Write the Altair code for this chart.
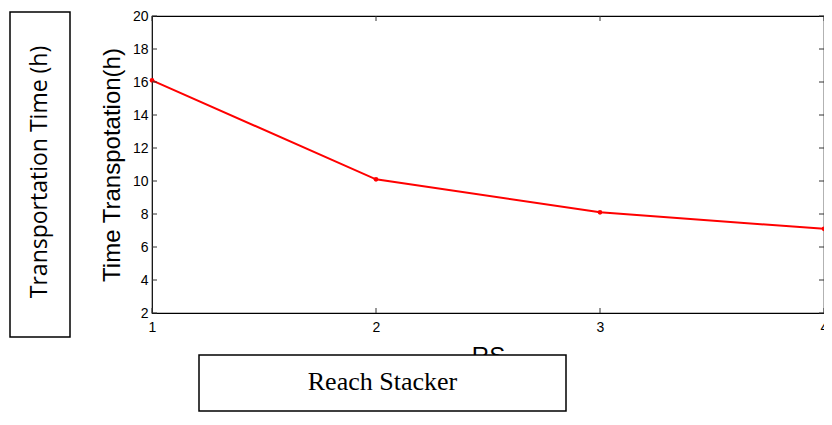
import altair as alt
import pandas as pd

# ---- data ----
rs_values = [1, 2, 3, 4]
time_hours = [16.1, 10.1, 8.1, 7.1]
y_tick_values = [2, 4, 6, 8, 10, 12, 14, 16, 18, 20]
x_tick_values = [1, 2, 3, 4]
y_title = "Time Transpotation(h)"
x_title = "RS"
left_box_text = "Transportation Time (h)"
bottom_box_text = "Reach Stacker"

W, H = 672, 297

df = pd.DataFrame({"RS": rs_values, "T": time_hours})
ydf = pd.DataFrame({"v": y_tick_values})
xdf = pd.DataFrame({"v": x_tick_values})
one = pd.DataFrame({"a": [0]})

xscale = alt.Scale(domain=[1, 4], nice=False, zero=False)
yscale = alt.Scale(domain=[2, 20], nice=False, zero=False)

xaxis = alt.Axis(values=x_tick_values, format="d", title=x_title, titleFontSize=24,
                 titleFont="Liberation Sans", titleFontWeight="normal", titleColor="black",
                 labelFont="Liberation Sans", labelFontSize=14, labelColor="black",
                 tickSize=0, domain=False, grid=False, labelPadding=7, titlePadding=10,
                 labelFlush=False, labelOverlap=False, labelBound=False)
yaxis = alt.Axis(values=y_tick_values, format="d", title=y_title, titleFontSize=24,
                 titleFont="Liberation Sans", titleFontWeight="normal", titleColor="black",
                 labelFont="Liberation Sans", labelFontSize=14, labelColor="black",
                 tickSize=0, domain=False, grid=False, labelPadding=4, titlePadding=8,
                 labelFlush=False, labelOverlap=False, labelBound=False)

line = alt.Chart(df).mark_line(color="#ff0000", strokeWidth=2).encode(
    x=alt.X("RS:Q", scale=xscale, axis=xaxis),
    y=alt.Y("T:Q", scale=yscale, axis=yaxis),
)
pts = alt.Chart(df).mark_point(color="#ff0000", filled=True, size=22, opacity=1).encode(
    x=alt.X("RS:Q", scale=xscale, axis=xaxis),
    y=alt.Y("T:Q", scale=yscale, axis=yaxis),
)

tick_color = "#333333"
yl = alt.Chart(ydf).mark_rule(color=tick_color).encode(
    y=alt.Y("v:Q", scale=yscale, axis=yaxis), x=alt.value(0), x2=alt.value(5))
yr = alt.Chart(ydf).mark_rule(color=tick_color).encode(
    y=alt.Y("v:Q", scale=yscale, axis=yaxis), x=alt.value(W - 5), x2=alt.value(W))
xb = alt.Chart(xdf).mark_rule(color=tick_color).encode(
    x=alt.X("v:Q", scale=xscale, axis=xaxis), y=alt.value(H - 5), y2=alt.value(H))
xt = alt.Chart(xdf).mark_rule(color=tick_color).encode(
    x=alt.X("v:Q", scale=xscale, axis=xaxis), y=alt.value(0), y2=alt.value(5))

left_box = alt.Chart(one).mark_rect(fill="white", stroke="black", strokeWidth=1.5).encode(
    x=alt.value(-142), x2=alt.value(-82), y=alt.value(-4), y2=alt.value(321))
left_text = alt.Chart(one).mark_text(angle=270, font="Open Sans", fontSize=23, color="black",
                                     align="center", baseline="middle").encode(
    x=alt.value(-112), y=alt.value(156), text=alt.value(left_box_text))

bottom_box = alt.Chart(one).mark_rect(fill="white", stroke="black", strokeWidth=1.5).encode(
    x=alt.value(47), x2=alt.value(414), y=alt.value(339), y2=alt.value(395))
bottom_text = alt.Chart(one).mark_text(font="Liberation Serif", fontSize=26, color="black",
                                       align="center", baseline="middle").encode(
    x=alt.value(230.5), y=alt.value(366), text=alt.value(bottom_box_text))

chart = alt.layer(line, pts, yl, yr, xb, xt, left_box, left_text, bottom_box, bottom_text).properties(
    width=W, height=H,
    autosize=alt.AutoSizeParams(type="none"),
    padding={"left": 144, "top": 8, "right": 0, "bottom": 100},
    background="white",
).configure_view(stroke="black", strokeWidth=1.2)

chart.save("out.html", embed_options={"renderer": "svg", "actions": False})
